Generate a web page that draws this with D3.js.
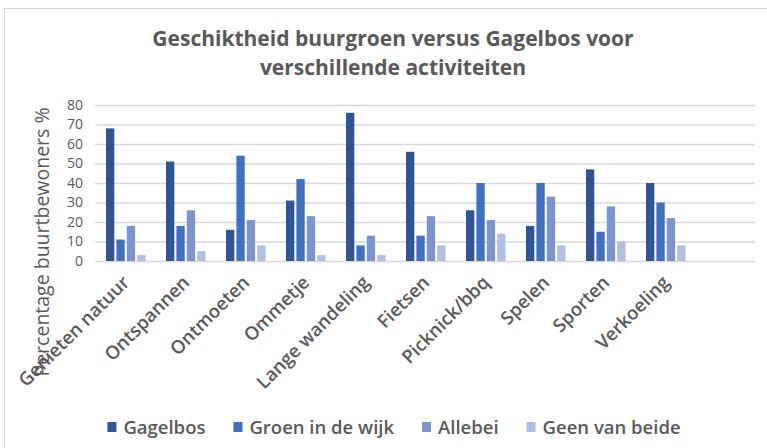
<!DOCTYPE html>
<html>
<head>
<meta charset="utf-8">
<script src="https://cdn.jsdelivr.net/npm/d3@7"></script>
<style>
	html, body { margin: 0; padding: 0; background: #fff; }
	svg { display: block; font-family: "Open Sans", sans-serif; }
</style>
</head>
<body>
<svg class="chart" width="767" height="448"></svg>
<script>
var categories = ["Genieten natuur", "Ontspannen", "Ontmoeten", "Ommetje", "Lange wandeling", "Fietsen", "Picknick/bbq", "Spelen", "Sporten", "Verkoeling"],
	seriesNames = ["Gagelbos", "Groen in de wijk", "Allebei", "Geen van beide"],
	gagelbos = [68, 51, 16, 31, 76, 56, 26, 18, 47, 40],
	groenInDeWijk = [11, 18, 54, 42, 8, 13, 40, 40, 15, 30],
	allebei = [18, 26, 21, 23, 13, 23, 21, 33, 28, 22],
	geenVanBeide = [3, 5, 8, 3, 3, 8, 14, 8, 10, 8],
	yTicks = [0, 10, 20, 30, 40, 50, 60, 70, 80];

var seriesValues = [gagelbos, groenInDeWijk, allebei, geenVanBeide];
var colors = d3.scaleOrdinal()
	.domain(seriesNames)
	.range(["#2F5597", "#4070C2", "#7B93D0", "#B1BFE4"]);

var svg = d3.select(".chart"),
	width = +svg.attr("width"),
	height = +svg.attr("height"),
	textColor = "#595959";

// rand van het grafiekgebied (rechts en onder afgesneden)
svg.append("rect")
	.attr("x", 4.5)
	.attr("y", 8.5)
	.attr("width", width + 20)
	.attr("height", height + 20)
	.attr("fill", "#fff")
	.attr("stroke", "#D9D9D9");

// titel
var title = svg.append("text")
	.attr("text-anchor", "middle")
	.attr("fill", textColor)
	.attr("font-weight", "bold")
	.attr("font-size", "21px");
title.append("tspan").attr("x", 393).attr("y", 46).text("Geschiktheid buurgroen versus Gagelbos voor");
title.append("tspan").attr("x", 393).attr("y", 75).text("verschillende activiteiten");

// schalen: Excel laat een lege elfde categorie over
var x0 = d3.scaleBand()
	.domain(categories.concat([""]))
	.range([95, 755]);
var x1 = d3.scaleBand()
	.domain(seriesNames)
	.range([11, 50.5])
	.paddingInner(0.2);
var y = d3.scaleLinear()
	.domain([0, 80])
	.range([261, 105]);

// rasterlijnen
svg.append("g")
	.selectAll("line")
	.data(yTicks)
	.enter()
	.append("line")
	.attr("x1", x0.range()[0])
	.attr("x2", x0.range()[1])
	.attr("y1", function (d) { return y(d) + 0.5; })
	.attr("y2", function (d) { return y(d) + 0.5; })
	.attr("stroke", "#D9D9D9")
	.attr("stroke-width", 1.3);

// y-as
var yAxis = svg.append("g")
	.attr("transform", "translate(" + (x0.range()[0] - 4) + ",0)")
	.call(d3.axisLeft(y).tickValues(yTicks).tickSize(0).tickPadding(8));
yAxis.select(".domain").remove();
yAxis.selectAll("text")
	.attr("fill", textColor)
	.attr("font-size", "14px")
	.attr("font-family", "Open Sans, sans-serif");

svg.append("text")
	.attr("transform", "translate(49,242) rotate(-90)")
	.attr("text-anchor", "middle")
	.attr("fill", textColor)
	.attr("font-size", "19.5px")
	.text("Percentage buurtbewoners %");

// staven
var groups = svg.append("g")
	.selectAll(".cat")
	.data(categories)
	.enter()
	.append("g")
	.attr("class", "cat")
	.attr("transform", function (d) { return "translate(" + x0(d) + ",0)"; });
groups.selectAll("rect")
	.data(function (d, i) {
		return seriesNames.map(function (s, j) { return {key: s, value: seriesValues[j][i]}; });
	})
	.enter()
	.append("rect")
	.attr("x", function (d) { return x1(d.key); })
	.attr("y", function (d) { return y(d.value); })
	.attr("width", x1.bandwidth())
	.attr("height", function (d) { return y(0) - y(d.value); })
	.attr("fill", function (d) { return colors(d.key); });

// categorielabels, schuin
svg.append("g")
	.selectAll("text")
	.data(categories)
	.enter()
	.append("text")
	.attr("transform", function (d) {
		return "translate(" + (x0(d) + x0.bandwidth() / 2 + 1) + ",279) rotate(-45)";
	})
	.attr("text-anchor", "end")
	.attr("dy", "0.35em")
	.attr("fill", textColor)
	.attr("font-size", "18.5px")
	.attr("font-weight", 600)
	.text(function (d) { return d; });

// legenda
var legend = svg.append("g").attr("class", "legend");
var items = legend.selectAll("g")
	.data(seriesNames)
	.enter()
	.append("g");
items.append("rect")
	.attr("width", 9)
	.attr("height", 10)
	.attr("y", -11)
	.attr("fill", function (d) { return colors(d); });
items.append("text")
	.attr("x", 16)
	.attr("y", 0)
	.attr("dy", "0.05em")
	.attr("fill", textColor)
	.attr("font-size", "18.5px")
	.attr("font-weight", 600)
	.text(function (d) { return d; });
var offset = 0;
items.each(function () {
	var w = d3.select(this).select("text").node().getComputedTextLength();
	d3.select(this).attr("transform", "translate(" + offset + ",0)");
	offset += 16 + w + 28;
});
offset -= 28;
legend.attr("transform", "translate(" + (394 - offset / 2) + ",433)");
</script>
</body>
</html>
